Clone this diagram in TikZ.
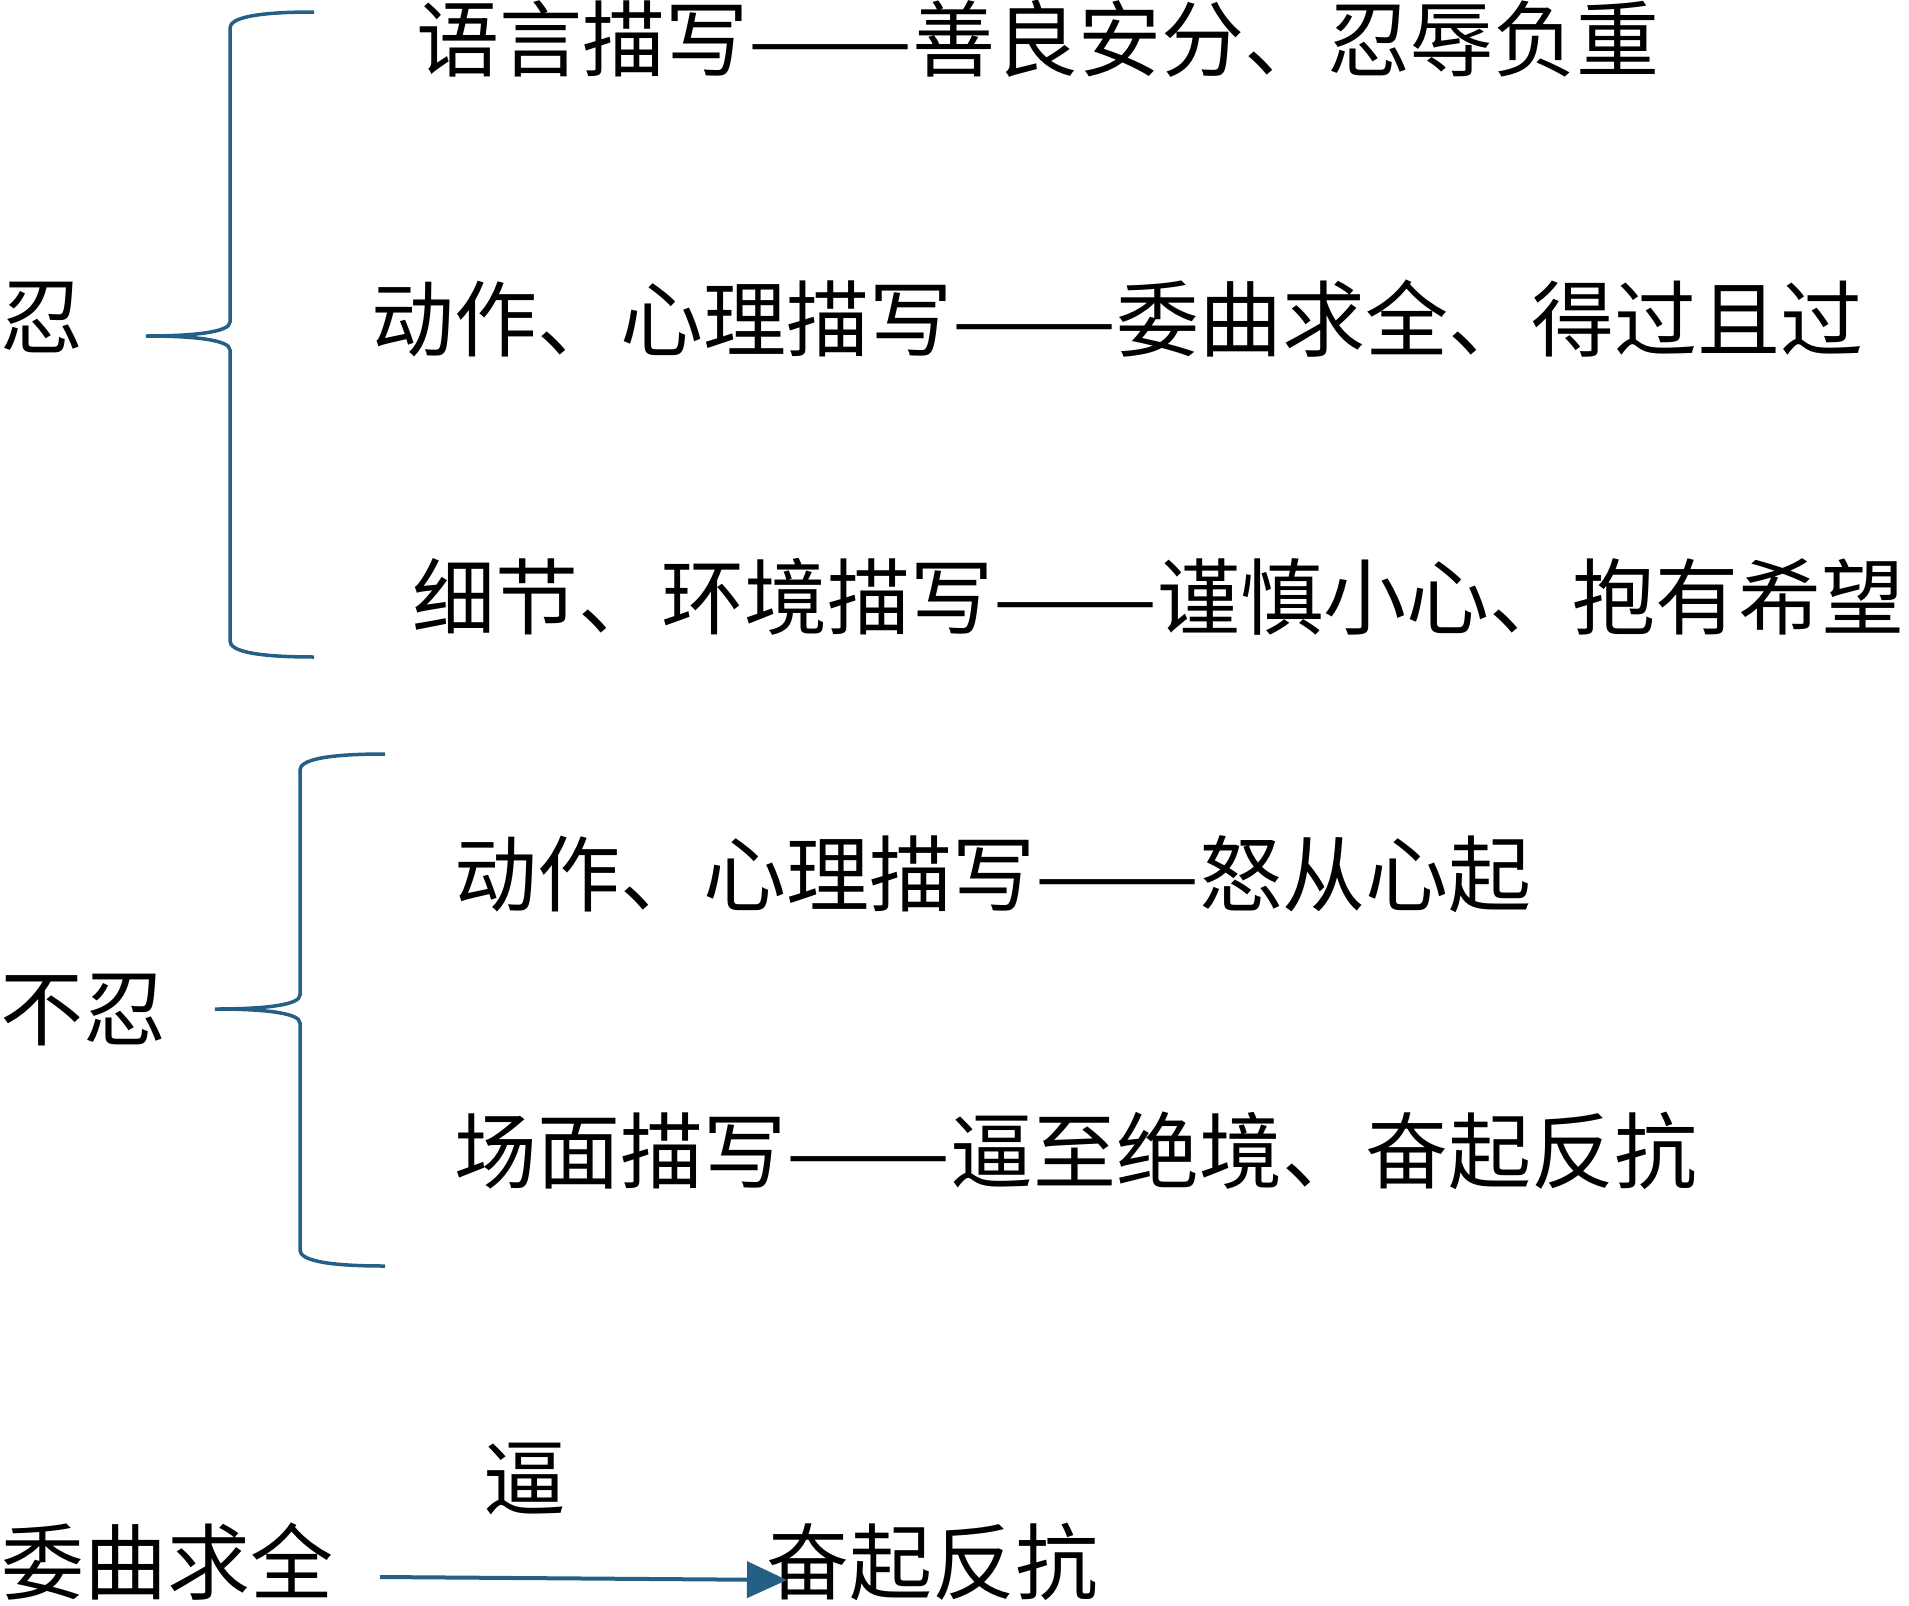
\documentclass[tikz,border=0pt]{standalone}
\usepackage{fontspec}
\usepackage{graphicx}
\newfontfamily\cjk{Noto Sans CJK SC}
\usetikzlibrary{arrows.meta}
\definecolor{bl}{RGB}{36,96,134}
\newcommand\mydashes{\scalebox{1.18}[1]{——}}
\tikzset{
  txt/.style={font=\cjk\fontsize{83pt}{90pt}\selectfont, inner sep=0pt, anchor=west},
  brace/.style={draw=bl, line width=3.5pt},
  conn/.style={draw=bl, line width=4pt, -{Triangle[length=40pt,width=36pt]}}
}
\begin{document}
\begin{tikzpicture}[x=1pt,y=-1pt]
\useasboundingbox (0,0) rectangle (1909,1606);
% texts
\node[txt] (ren) at (0,317) {忍};
\node[txt] (l1) at (416,39) {语言描写\mydashes 善良安分、忍辱负重};
\node[txt] (l2) at (371,319) {动作、心理描写\mydashes 委曲求全、得过且过};
\node[txt] (l3) at (412,597) {细节、环境描写\mydashes 谨慎小心、抱有希望};
\node[txt] (buren) at (0,1010) {不忍};
\node[txt] (l4) at (454,874) {动作、心理描写\mydashes 怒从心起};
\node[txt] (l5) at (454,1151) {场面描写\mydashes 逼至绝境、奋起反抗};
\node[txt] (bi) at (483,1479) {逼};
\node[txt] (wq) at (1,1562) {委曲求全};
\node[txt] (fq) at (766,1562) {奋起反抗};
% brace 1
\coordinate (b1t) at (314,12);
\coordinate (b1m) at (146,336);
\coordinate (b1b) at (314,657);
\draw[brace] (b1t) .. controls (255,12) and (230,18) .. (230,28) -- (230,322)
  .. controls (230,332) and (195,336) .. (b1m)
  .. controls (195,336) and (230,340) .. (230,350) -- (230,641)
  .. controls (230,651) and (255,657) .. (b1b);
% brace 2
\coordinate (b2t) at (385,754);
\coordinate (b2m) at (215,1009);
\coordinate (b2b) at (385,1266);
\draw[brace] (b2t) .. controls (325,754) and (300,760) .. (300,770) -- (300,995)
  .. controls (300,1005) and (265,1009) .. (b2m)
  .. controls (265,1009) and (300,1013) .. (300,1023) -- (300,1250)
  .. controls (300,1260) and (325,1266) .. (b2b);
% arrow
\coordinate (as) at (380,1577);
\coordinate (ae) at (787,1580);
\draw[conn] (as) -- (ae);
\end{tikzpicture}
\end{document}
